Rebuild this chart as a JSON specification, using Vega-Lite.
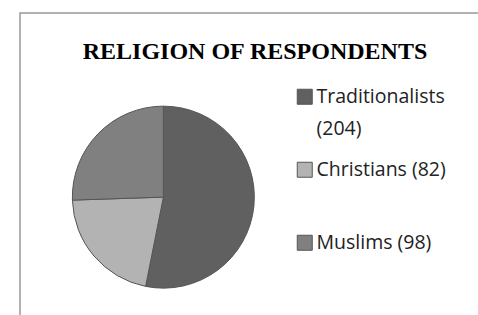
{
  "$schema": "https://vega.github.io/schema/vega-lite/v6.json",
  "autosize": "none",
  "width": 470,
  "height": 310,
  "padding": {"left": 20, "top": 13, "right": -12, "bottom": -8},
  "background": "white",
  "title": {
    "text": "RELIGION OF RESPONDENTS",
    "font": "Liberation Serif",
    "fontSize": 24,
    "fontWeight": "bold",
    "color": "black",
    "anchor": "middle",
    "frame": "group",
    "baseline": "alphabetic",
    "offset": -70
  },
  "data": {
    "values": [
      {"religion": "Traditionalists (204)", "count": 204, "rank": 1},
      {"religion": "Christians (82)", "count": 82, "rank": 2},
      {"religion": "Muslims (98)", "count": 98, "rank": 3}
    ]
  },
  "mark": {"type": "arc", "outerRadius": 91, "stroke": "#555555", "strokeWidth": 1},
  "encoding": {
    "theta": {"field": "count", "type": "quantitative", "stack": true},
    "order": {"field": "rank"},
    "color": {
      "field": "religion",
      "type": "nominal",
      "sort": null,
      "scale": {
        "domain": ["Traditionalists (204)", "Christians (82)", "Muslims (98)"],
        "range": ["#606060", "#b3b3b3", "#808080"]
      },
      "legend": {
        "title": null,
        "orient": "none",
        "legendX": 275,
        "legendY": 74,
        "padding": 0,
        "symbolType": "square",
        "symbolSize": 225,
        "symbolStrokeColor": "#555555",
        "symbolStrokeWidth": 1,
        "labelFont": "Open Sans",
        "labelFontSize": 19.5,
        "labelColor": "#222222",
        "labelOffset": 2,
        "labelLimit": 0,
        "rowPadding": 20,
        "gridAlign": "all",
        "labelBaseline": "middle",
        "labelExpr": "datum.label == 'Traditionalists (204)' ? ['Traditionalists', '(204)'] : datum.label"
      }
    },
    "x": {"datum": 0.305, "type": "quantitative", "scale": {"domain": [0, 1]}, "axis": null},
    "y": {"datum": 0.406, "type": "quantitative", "scale": {"domain": [0, 1]}, "axis": null}
  },
  "config": {
    "view": {"stroke": "#999999", "strokeWidth": 1.5},
    "style": {"guide-label": {"lineHeight": 32}}
  }
}
